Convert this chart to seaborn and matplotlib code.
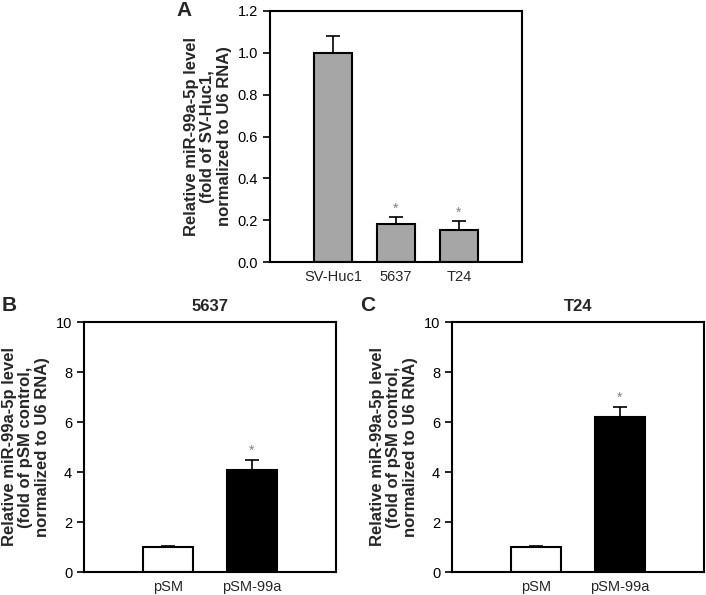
import matplotlib
matplotlib.use("Agg")
import matplotlib.pyplot as plt
import numpy as np
import seaborn as sns

# Panel A: expression in cell lines
cells = ["SV-Huc1", "5637", "T24"]
cells_mean = [1.0, 0.18, 0.155]
cells_err = [0.08, 0.035, 0.04]
cells_star = [False, True, True]

# Panels B and C: transfection
groups = ["pSM", "pSM-99a"]
b_mean = [1.0, 4.1]
b_err = [0.05, 0.4]
c_mean = [1.0, 6.2]
c_err = [0.05, 0.42]
group_star = [False, True]

sns.set_style("white")
plt.rcParams["font.family"] = ["Liberation Sans", "DejaVu Sans"]

W, H = 706, 595
fig = plt.figure(figsize=(W / 100, H / 100), dpi=100)


def px_axes(left, top, right, bottom):
    # Convert pixel box to figure fractions.
    return fig.add_axes([left / W, (H - bottom) / H, (right - left) / W, (bottom - top) / H])


def draw_panel(ax, cats, means, errs, colors, stars, ylim, step, fmt, ylabel, star_off):
    sns.barplot(x=cats, y=means, hue=cats, palette=colors, legend=False,
                width=0.6, edgecolor="black", linewidth=1.5, errorbar=None, ax=ax)
    xs = np.arange(len(cats))
    ax.errorbar(xs, means, yerr=[np.zeros(len(errs)), errs], fmt="none",
                ecolor="black", elinewidth=1.2, capsize=5, capthick=1.2)
    for x, m, e, s in zip(xs, means, errs, stars):
        if s:
            ax.text(x, m + e + star_off, "*", ha="center", va="bottom",
                    color="#808080", fontsize=10)
    ax.set_xlim(-1, len(cats))
    ax.set_ylim(*ylim)
    ax.set_yticks(np.arange(ylim[0], ylim[1] + step / 2, step))
    ax.yaxis.set_major_formatter(matplotlib.ticker.FormatStrFormatter(fmt))
    ax.tick_params(axis="y", direction="out", length=5, width=1.2, left=True,
                   labelsize=10.5, colors="black")
    ax.tick_params(axis="x", length=0, labelsize=10.5, pad=6)
    for sp in ax.spines.values():
        sp.set_visible(True)
        sp.set_color("black")
        sp.set_linewidth(1.5)
    ax.set_ylabel(ylabel, fontsize=12, fontweight="bold", linespacing=1.15, labelpad=4)
    ax.set_xlabel("")


ax_a = px_axes(270, 11, 522, 262)
draw_panel(ax_a, cells, cells_mean, cells_err, ["#a6a6a6"] * 3, cells_star,
           (0, 1.2), 0.2, "%.1f",
           "Relative miR-99a-5p level\n(fold of SV-Huc1,\nnormalized to U6 RNA)", 0.005)

ax_b = px_axes(84, 322, 336, 572)
draw_panel(ax_b, groups, b_mean, b_err, ["white", "black"], group_star,
           (0, 10), 2, "%d",
           "Relative miR-99a-5p level\n(fold of pSM control,\nnormalized to U6 RNA)", 0.05)
ax_b.set_title("5637", fontsize=12, fontweight="bold", pad=8)

ax_c = px_axes(452, 322, 704, 572)
draw_panel(ax_c, groups, c_mean, c_err, ["white", "black"], group_star,
           (0, 10), 2, "%d",
           "Relative miR-99a-5p level\n(fold of pSM control,\nnormalized to U6 RNA)", 0.05)
ax_c.set_title("T24", fontsize=12, fontweight="bold", pad=8)

# Panel letters
fig.text(176 / W, 1 - 10 / H, "A", fontsize=15, fontweight="bold", ha="left", va="center")
fig.text(2 / W, 1 - 306 / H, "B", fontsize=15, fontweight="bold", ha="left", va="center")
fig.text(360 / W, 1 - 306 / H, "C", fontsize=15, fontweight="bold", ha="left", va="center")

fig.savefig("out.png", dpi=100)
